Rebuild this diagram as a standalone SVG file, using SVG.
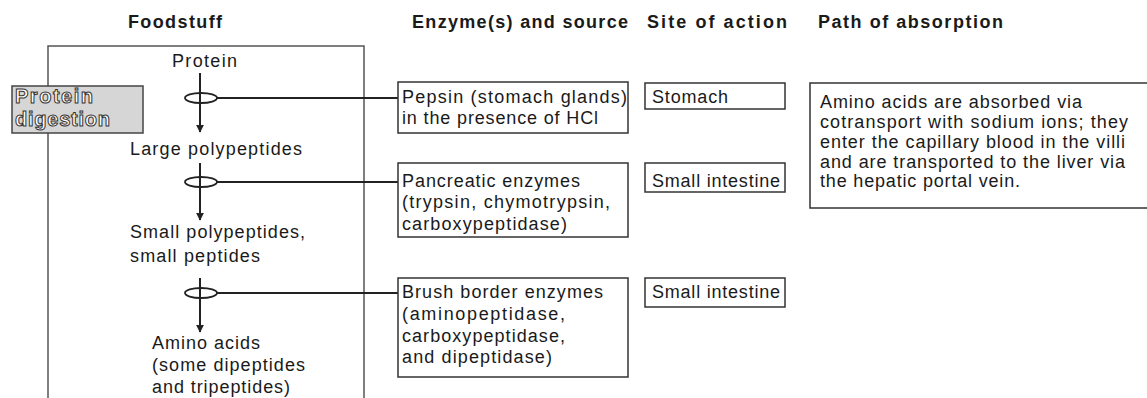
<svg xmlns="http://www.w3.org/2000/svg" width="1147" height="398" viewBox="0 0 1147 398">
<defs>
<style>
text{font-family:"Liberation Sans",Arial,sans-serif;fill:#1a1a1a}
.h{font-weight:bold;font-size:18px}
.t{font-size:18px}
.box{fill:#fff;stroke:#333;stroke-width:1.5}
.ln{stroke:#222;stroke-width:2;fill:none}
.ell{stroke:#222;stroke-width:1.8;fill:none}
.pd{font-weight:bold;font-size:20px;fill:#fff;stroke:#333;stroke-width:1}
</style>
<marker id="ah" viewBox="0 0 10 10" refX="9" refY="5" markerWidth="4" markerHeight="4" orient="auto">
<path d="M0,0 L10,5 L0,10 Z" fill="#222"/>
</marker>
</defs>
<rect width="1147" height="398" fill="#fff"/>
<g id="headers">
<text class="h" x="128" y="28" textLength="94">Foodstuff</text>
<text class="h" x="412" y="28" textLength="216">Enzyme(s) and source</text>
<text class="h" x="647" y="28" textLength="140">Site of action</text>
<text class="h" x="818" y="28" textLength="185">Path of absorption</text>
</g>
<g id="foodstuff-frame">
<path d="M48,400 V46 H364 V400" fill="none" stroke="#555" stroke-width="1.5"/>
</g>
<g id="protein-digestion">
<rect x="12" y="86" width="131" height="47" fill="#d6d6d6" stroke="#444" stroke-width="1.5"/>
<text class="pd" x="15" y="103" textLength="78">Protein</text>
<text class="pd" x="15" y="126" textLength="95">digestion</text>
</g>
<g id="stages">
<text class="t" x="172" y="67" textLength="65">Protein</text>
<text class="t" x="130" y="155" textLength="172">Large polypeptides</text>
<text class="t" x="130" y="238" textLength="175">Small polypeptides,</text>
<text class="t" x="130" y="262" textLength="130">small peptides</text>
<text class="t" x="152" y="349" textLength="108">Amino acids</text>
<text class="t" x="152" y="371" textLength="153">(some dipeptides</text>
<text class="t" x="152" y="393" textLength="138">and tripeptides)</text>
</g>
<g id="connectors">
<line class="ln" x1="200" y1="73" x2="200" y2="132" marker-end="url(#ah)"/>
<ellipse class="ell" cx="201" cy="98" rx="16" ry="5"/>
<line class="ln" x1="217" y1="98" x2="398" y2="98"/>
<line class="ln" x1="200" y1="163" x2="200" y2="220" marker-end="url(#ah)"/>
<ellipse class="ell" cx="201" cy="182" rx="16" ry="5"/>
<line class="ln" x1="217" y1="182" x2="398" y2="182"/>
<line class="ln" x1="200" y1="278" x2="200" y2="332" marker-end="url(#ah)"/>
<ellipse class="ell" cx="201" cy="293" rx="16" ry="5"/>
<line class="ln" x1="217" y1="293" x2="398" y2="293"/>
</g>
<g id="pepsin">
<rect class="box" x="398" y="82" width="230" height="51"/>
<text class="t" x="402" y="103" textLength="225">Pepsin (stomach glands)</text>
<text class="t" x="402" y="124" textLength="196">in the presence of HCl</text>
</g>
<g id="stomach">
<rect class="box" x="645" y="83" width="140" height="26"/>
<text class="t" x="652" y="103" textLength="76">Stomach</text>
</g>
<g id="pancreatic">
<rect class="box" x="398" y="163" width="230" height="74"/>
<text class="t" x="402" y="187" textLength="178">Pancreatic enzymes</text>
<text class="t" x="402" y="208" textLength="208">(trypsin, chymotrypsin,</text>
<text class="t" x="402" y="230" textLength="165">carboxypeptidase)</text>
</g>
<g id="small-intestine-1">
<rect class="box" x="645" y="163" width="140" height="29"/>
<text class="t" x="652" y="187" textLength="128">Small intestine</text>
</g>
<g id="brush-border">
<rect class="box" x="398" y="278" width="230" height="99"/>
<text class="t" x="402" y="298" textLength="201">Brush border enzymes</text>
<text class="t" x="402" y="320" textLength="163">(aminopeptidase,</text>
<text class="t" x="402" y="342" textLength="163">carboxypeptidase,</text>
<text class="t" x="402" y="363" textLength="150">and dipeptidase)</text>
</g>
<g id="small-intestine-2">
<rect class="box" x="645" y="278" width="140" height="29"/>
<text class="t" x="652" y="298" textLength="128">Small intestine</text>
</g>
<g id="absorption">
<rect class="box" x="810" y="83" width="340" height="125"/>
<text class="t" x="820" y="108" textLength="262">Amino acids are absorbed via</text>
<text class="t" x="820" y="128" textLength="308">cotransport with sodium ions; they</text>
<text class="t" x="820" y="148" textLength="305">enter the capillary blood in the villi</text>
<text class="t" x="820" y="168" textLength="305">and are transported to the liver via</text>
<text class="t" x="820" y="187" textLength="200">the hepatic portal vein.</text>
</g>
</svg>
